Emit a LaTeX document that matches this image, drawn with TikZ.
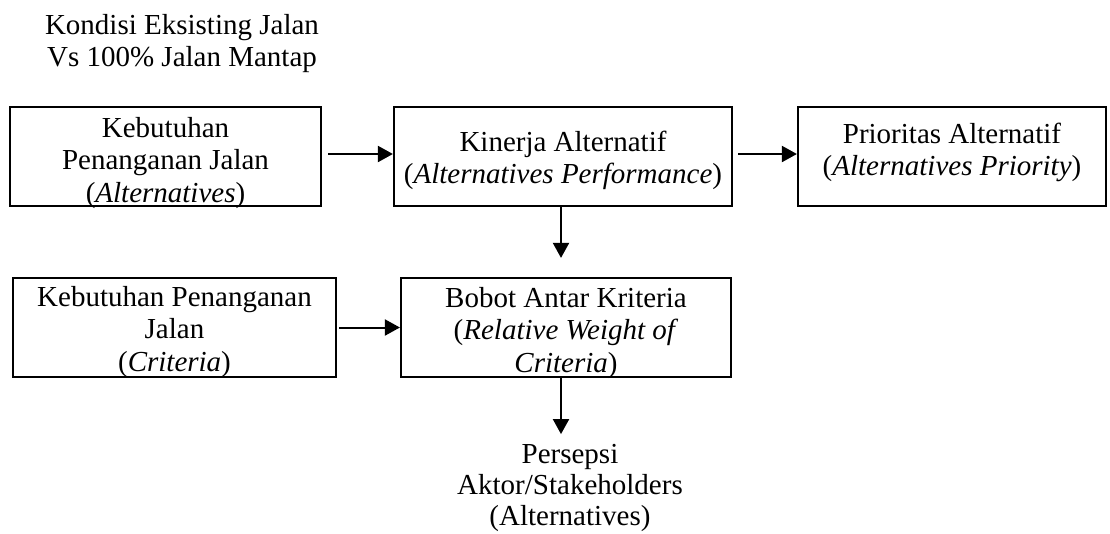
\documentclass[tikz,border=0pt]{standalone}
\usepackage{fontspec}
\setmainfont{Liberation Serif}
\usetikzlibrary{arrows.meta}

% centred lines whose reference point is the first baseline
\newcommand{\flowlines}[1]{\begin{tabular}[t]{@{}c@{}}#1\end{tabular}}

\begin{document}
\begin{tikzpicture}[
  x=1pt, y=-1pt,
  procbox/.style={draw, line width=2.2pt, inner sep=0pt, minimum height=99pt},
  boxtext/.style={anchor=base, inner sep=0pt, font=\fontsize{29}{32.5}\selectfont},
  flow/.style={line width=2pt, -{Triangle[length=15pt,width=16pt]}}
]
\useasboundingbox (0,0) rectangle (1110,533);

% heading
\node[boxtext] (head) at (182,34) {\flowlines{Kondisi Eksisting Jalan\\ Vs 100\% Jalan Mantap}};

% boxes
\node[procbox, minimum width=311pt] (b1) at (165.5,156.5) {};
\node[procbox, minimum width=338pt] (b2) at (563,156.5) {};
\node[procbox, minimum width=308pt] (b3) at (952,156.5) {};
\node[procbox, minimum width=323pt] (b4) at (174.5,327.5) {};
\node[procbox, minimum width=330pt] (b5) at (566,327.5) {};

% box texts
\node[boxtext] (t1) at (165.5,137) {\flowlines{Kebutuhan\\ Penanganan Jalan\\ (\textit{Alternatives})}};
\node[boxtext] (t2) at (563,151) {\flowlines{Kinerja Alternatif\\ (\textit{Alternatives Performance})}};
\node[boxtext] (t3) at (952,143) {\flowlines{Prioritas Alternatif\\ (\textit{Alternatives Priority})}};
\node[boxtext] (t4) at (174.5,306) {\flowlines{Kebutuhan Penanganan\\ Jalan\\ (\textit{Criteria})}};
\node[boxtext] (t5) at (566,307) {\flowlines{Bobot Antar Kriteria\\ (\textit{Relative Weight of}\\ \textit{Criteria})}};

% actor perception
\node[anchor=base, inner sep=0pt, font=\fontsize{29}{31}\selectfont] (pers) at (570,463)
  {\flowlines{Persepsi\\ Aktor/Stakeholders\\ (Alternatives)}};

% connectors
\draw[flow] ([xshift=6pt,yshift=2.5pt]b1.east) -- ([yshift=2.5pt]b2.west);
\draw[flow] ([xshift=5pt,yshift=2.5pt]b2.east) -- ([yshift=2.5pt]b3.west);
\draw[flow, shorten >=19pt] ([xshift=-2pt]b2.south) -- ([xshift=-2pt]b2.south |- b5.north);
\draw[flow] ([xshift=2pt]b4.east) -- (b5.west);
\draw[flow, shorten >=7pt] ([xshift=-5pt]b5.south) -- ([xshift=-5pt]b5.south |- pers.north);
\end{tikzpicture}
\end{document}
